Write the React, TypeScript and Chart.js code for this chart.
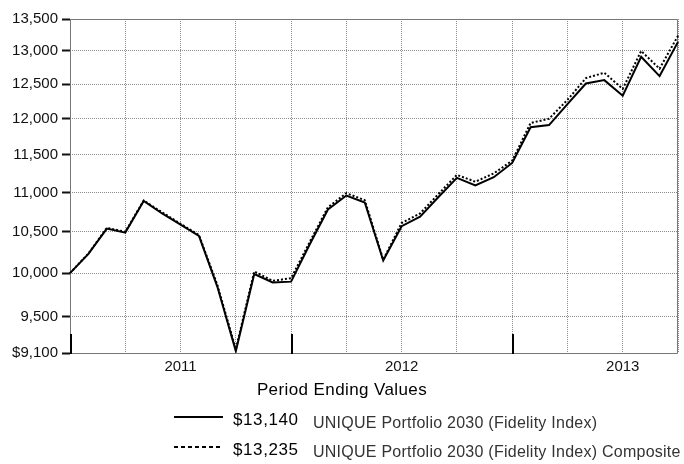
import React, { useEffect, useRef } from 'react';
import { Chart, registerables } from 'chart.js';

Chart.register(...registerables);

// ---- data ----
const periodEnds = [
  'Dec 2010',
  'Jan 2011', 'Feb 2011', 'Mar 2011', 'Apr 2011', 'May 2011', 'Jun 2011',
  'Jul 2011', 'Aug 2011', 'Sep 2011', 'Oct 2011', 'Nov 2011', 'Dec 2011',
  'Jan 2012', 'Feb 2012', 'Mar 2012', 'Apr 2012', 'May 2012', 'Jun 2012',
  'Jul 2012', 'Aug 2012', 'Sep 2012', 'Oct 2012', 'Nov 2012', 'Dec 2012',
  'Jan 2013', 'Feb 2013', 'Mar 2013', 'Apr 2013', 'May 2013', 'Jun 2013',
  'Jul 2013', 'Aug 2013', 'Sep 2013',
];

const portfolioValues = [
  10000,
  10230, 10540, 10490, 10890, 10730, 10590,
  10450, 9840, 9120, 9990, 9890, 9900,
  10340, 10780, 10960, 10870, 10150, 10570,
  10690, 10940, 11190, 11090, 11200, 11390,
  11880, 11910, 12210, 12510, 12560, 12330,
  12910, 12620, 13140,
];

const compositeValues = [
  10000,
  10235, 10550, 10500, 10895, 10745, 10600,
  10460, 9860, 9140, 10020, 9910, 9940,
  10370, 10810, 10990, 10900, 10160, 10610,
  10730, 10980, 11230, 11140, 11250, 11420,
  11940, 12000, 12270, 12590, 12670, 12430,
  13000, 12730, 13235,
];

const seriesNames = [
  'UNIQUE Portfolio 2030 (Fidelity Index)',
  'UNIQUE Portfolio 2030 (Fidelity Index) Composite',
];

const yTickValues = [9100, 9500, 10000, 10500, 11000, 11500, 12000, 12500, 13000, 13500];
const yearLabels = ['2011', '2012', '2013'];
const yearLabelPeriods = ['Jun 2011', 'Jun 2012', 'Jun 2013'];
const yearStartPeriods = ['Dec 2010', 'Dec 2011', 'Dec 2012'];
const gridEveryMonths = 3;
const legendTitle = 'Period Ending Values';

// ---- styles ----
const FONT = '"Liberation Sans", Arial, sans-serif';
const GRID = '#8c8c8c';
const FRAME = '#777777';
const TEXT = '#111111';

const fmt = (v: number) => Math.round(v).toLocaleString('en-US');

const decorPlugin = {
  id: 'decor',
  beforeDatasetsDraw(chart: any) {
    const { ctx, chartArea: a, scales } = chart;
    const x = scales.x;
    ctx.save();
    ctx.strokeStyle = FRAME;
    ctx.lineWidth = 1;
    ctx.setLineDash([]);
    ctx.beginPath();
    const l = Math.round(a.left) + 0.5;
    const r = Math.round(a.right) - 0.5;
    const t = Math.round(a.top) + 0.5;
    const b = Math.round(a.bottom) + 0.5;
    ctx.moveTo(l, t); ctx.lineTo(r, t); ctx.lineTo(r, b); ctx.lineTo(l, b); ctx.closePath();
    ctx.stroke();
    ctx.strokeStyle = '#000';
    ctx.lineWidth = 2;
    yearStartPeriods.forEach((p) => {
      const px = Math.round(x.getPixelForValue(periodEnds.indexOf(p))) + 1;
      ctx.beginPath();
      ctx.moveTo(px, a.bottom + 1);
      ctx.lineTo(px, a.bottom - 19);
      ctx.stroke();
    });
    ctx.restore();
  },
  afterDraw(chart: any) {
    const { ctx } = chart;
    ctx.save();
    ctx.fillStyle = '#000';
    ctx.textBaseline = 'alphabetic';
    ctx.font = `17px ${FONT}`;
    (ctx as any).letterSpacing = '0.4px';
    ctx.textAlign = 'center';
    ctx.fillText(legendTitle, 342, 395);

    const rows = [
      { dash: [] as number[], value: portfolioValues[portfolioValues.length - 1], name: seriesNames[0], y: 417, vBase: 425, nBase: 427.5 },
      { dash: [4, 3], value: compositeValues[compositeValues.length - 1], name: seriesNames[1], y: 447, vBase: 455, nBase: 457 },
    ];
    rows.forEach((row) => {
      ctx.strokeStyle = '#000';
      ctx.lineWidth = 2;
      ctx.setLineDash(row.dash);
      ctx.beginPath();
      ctx.moveTo(174, row.y);
      ctx.lineTo(223, row.y);
      ctx.stroke();
      ctx.setLineDash([]);
      ctx.textAlign = 'left';
      ctx.fillStyle = '#000';
      ctx.font = `17px ${FONT}`;
      (ctx as any).letterSpacing = '0.6px';
      ctx.fillText('$' + fmt(row.value), 233, row.vBase);
      ctx.fillStyle = '#333';
      ctx.font = `16px ${FONT}`;
      (ctx as any).letterSpacing = '0.25px';
      ctx.fillText(row.name, 313, row.nBase);
    });
    (ctx as any).letterSpacing = '0px';
    ctx.restore();
  },
};

export default function App() {
  const ref = useRef<HTMLCanvasElement | null>(null);

  useEffect(() => {
    const canvas = ref.current;
    if (!canvas) return;
    const chart = new Chart(canvas, {
      type: 'line',
      data: {
        labels: periodEnds,
        datasets: [
          {
            label: seriesNames[0],
            data: portfolioValues,
            borderColor: '#000',
            borderWidth: 2,
            pointRadius: 0,
            tension: 0,
            fill: false,
          },
          {
            label: seriesNames[1],
            data: compositeValues,
            borderColor: '#000',
            borderWidth: 2,
            borderDash: [2, 2],
            pointRadius: 0,
            tension: 0,
            fill: false,
          },
        ],
      },
      options: {
        animation: false,
        responsive: false,
        maintainAspectRatio: false,
        layout: { padding: { top: 19, right: 6, left: 0, bottom: 0 } },
        plugins: {
          legend: { display: false },
          tooltip: { enabled: false },
          title: { display: false },
        },
        scales: {
          x: {
            type: 'category',
            offset: false,
            afterFit: (s: any) => { s.height = 111; },
            ticks: {
              autoSkip: false,
              maxRotation: 0,
              minRotation: 0,
              padding: 5,
              color: TEXT,
              font: { family: FONT, size: 15 },
              callback: (_v: any, i: number) => {
                const k = yearLabelPeriods.indexOf(periodEnds[i]);
                return k >= 0 ? yearLabels[k] : '';
              },
            },
            grid: {
              drawTicks: false,
              lineWidth: 1,
              color: (c: any) => (c.index % gridEveryMonths === 0 ? GRID : 'rgba(0,0,0,0)'),
            },
            border: { display: false, dash: [1, 1] },
          } as any,
          y: {
            type: 'logarithmic',
            min: yTickValues[0],
            max: yTickValues[yTickValues.length - 1],
            afterBuildTicks: (s: any) => { s.ticks = yTickValues.map((v) => ({ value: v })); },
            afterFit: (s: any) => { s.width = 70; },
            ticks: {
              autoSkip: false,
              padding: 4,
              color: TEXT,
              font: { family: FONT, size: 15 },
              callback: (v: any) => (Number(v) === yTickValues[0] ? '$' : '') + fmt(Number(v)),
            },
            grid: {
              lineWidth: 1,
              color: GRID,
              drawTicks: true,
              tickLength: 8,
              tickWidth: 2,
              tickColor: '#111',
              tickBorderDash: [],
            },
            border: { display: false, dash: [1, 1] },
          } as any,
        },
      },
      plugins: [decorPlugin],
    });
    return () => chart.destroy();
  }, []);

  return (
    <div style={{ position: 'fixed', left: 0, top: 0, width: 684, height: 464, background: '#fff' }}>
      <canvas ref={ref} width={684} height={464} style={{ display: 'block' }} />
    </div>
  );
}
